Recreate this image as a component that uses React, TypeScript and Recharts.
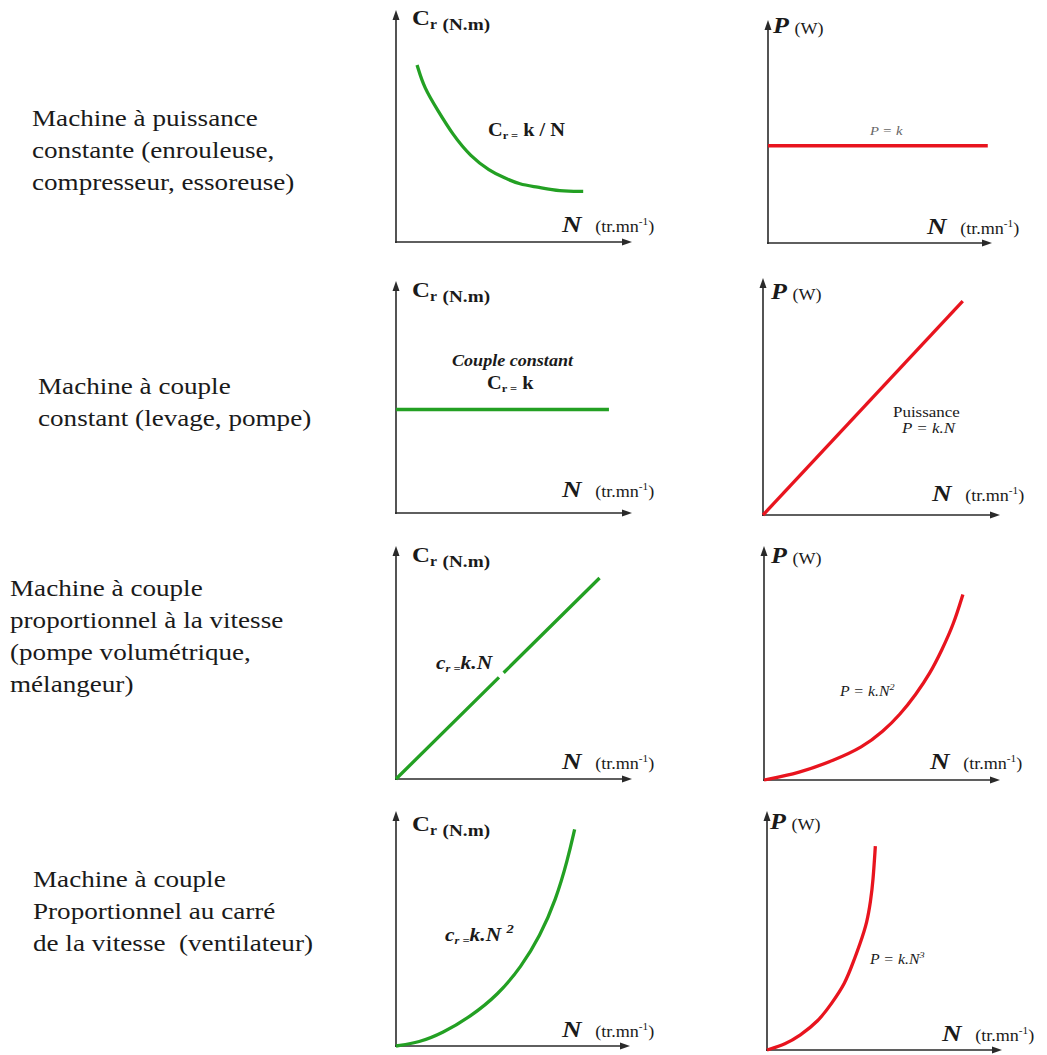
import { LineChart, Line, XAxis, YAxis, ReferenceLine } from "recharts";

const GREEN = "#23a023";
const RED = "#e8141e";
const INK = "#1a1a1a";
const SERIF = "'Liberation Serif', 'Times New Roman', serif";
const SX = 1.13; // the scan is a bit stretched horizontally

// machine à puissance constante
const n1c = [9, 12, 18, 24, 32, 40, 46, 53, 60, 70, 80];
const cr1 = [77, 67, 57, 47, 37, 31, 28, 25, 24, 22, 22];
const n1p = [0, 99];
const p1 = [44, 44];

// machine à couple constant
const n2c = [0, 91];
const cr2 = [45, 45];
const n2p = [0, 85];
const p2 = [0, 91];

// couple proportionnel à la vitesse (small break in the green line)
const n3c = [0, 44, 45, 46, 87];
const cr3 = [0, 44, null, 46, 87];
const n3p = [0, 15, 30, 42, 51, 58, 65, 71, 76, 81, 85];
const p3 = [0, 3, 8.5, 14, 21, 28, 37, 46, 56, 67, 80];

// couple proportionnel au carré de la vitesse
const n4c = [0, 10, 20, 32, 44, 54, 62, 69, 74, 77];
const cr4 = [0, 1.5, 5.5, 12.5, 22, 34, 47, 63, 80, 93];
const n4p = [0, 8, 14, 22, 28, 33.5, 37, 40, 43, 44.5, 45.5, 46.5];
const p4 = [0, 2.5, 6, 12, 20, 28, 37, 45, 54, 63, 71, 86];

const rowLabels = [
  { x: 32, y: 126, lines: ["Machine à puissance", "constante (enrouleuse,", "compresseur, essoreuse)"] },
  { x: 38, y: 394, lines: ["Machine à couple", "constant (levage, pompe)"] },
  { x: 10, y: 596, lines: ["Machine à couple", "proportionnel à la vitesse", "(pompe volumétrique,", "mélangeur)"] },
  { x: 33, y: 887, lines: ["Machine à couple", "Proportionnel au carré", "de la vitesse  (ventilateur)"] },
];

const arrowShape = (p: any) => {
  const { x1, y1, x2, y2 } = p;
  const st = { stroke: "#2a2a2a", strokeWidth: 1.6 };
  if (Math.abs(x1 - x2) < 0.5) {
    const top = Math.min(y1, y2);
    const bot = Math.max(y1, y2);
    return (
      <g>
        <line x1={x1} y1={bot + 1} x2={x1} y2={top + 6} {...st} />
        <polygon points={`${x1},${top - 2} ${x1 - 3.5},${top + 8} ${x1 + 3.5},${top + 8}`} fill="#2a2a2a" />
      </g>
    );
  }
  const left = Math.min(x1, x2);
  const right = Math.max(x1, x2);
  return (
    <g>
      <line x1={left - 1} y1={y1} x2={right - 6} y2={y1} {...st} />
      <polygon points={`${right + 2},${y1} ${right - 8},${y1 - 3.5} ${right - 8},${y1 + 3.5}`} fill="#2a2a2a" />
    </g>
  );
};

function Graph({ box, n, v, color, curve = "basis" }: any) {
  const [x0, y0, x1, y1] = box;
  const M = 8;
  const data = n.map((x: number, i: number) => ({ n: x, v: v[i] }));
  return (
    <div style={{ position: "absolute", left: x0 - M, top: y0 - M }}>
      <LineChart
        width={x1 - x0 + 2 * M}
        height={y1 - y0 + 2 * M}
        data={data}
        margin={{ top: M, right: M, bottom: M, left: M }}
      >
        <XAxis dataKey="n" type="number" domain={[0, 100]} hide />
        <YAxis type="number" domain={[0, 100]} hide />
        <ReferenceLine x={0} shape={arrowShape} />
        <ReferenceLine y={0} shape={arrowShape} />
        <Line
          dataKey="v"
          type={curve}
          stroke={color}
          strokeWidth={3.3}
          dot={false}
          isAnimationActive={false}
        />
      </LineChart>
    </div>
  );
}

function T({ x, y, children, ...rest }: any) {
  return (
    <text
      transform={`translate(${x} ${y}) scale(${SX} 1)`}
      fill={INK}
      fontFamily={SERIF}
      {...rest}
    >
      {children}
    </text>
  );
}

function CrTitle({ x, y }: any) {
  return (
    <T x={x} y={y} fontWeight="bold">
      <tspan fontSize={22}>C</tspan>
      <tspan fontSize={14} dy={4}>r</tspan>
      <tspan fontSize={17} dx={5} dy={1}>(N.m)</tspan>
    </T>
  );
}

function PTitle({ x, y }: any) {
  return (
    <T x={x} y={y}>
      <tspan fontSize={23} fontWeight="bold" fontStyle="italic">P</tspan>
      <tspan fontSize={16} dx={5} dy={1}>(W)</tspan>
    </T>
  );
}

function NTitle({ x, y }: any) {
  return (
    <T x={x} y={y}>
      <tspan fontSize={24} fontWeight="bold" fontStyle="italic">N</tspan>
      <tspan fontSize={16} dx={12}>(tr.mn</tspan>
      <tspan fontSize={10} dy={-7}>-1</tspan>
      <tspan fontSize={16} dy={7}>)</tspan>
    </T>
  );
}

export default function App() {
  return (
    <div style={{ position: "absolute", left: 0, top: 0, width: 1047, height: 1055, background: "#fff" }}>
      <Graph box={[396, 12, 630, 242]} n={n1c} v={cr1} color={GREEN} />
      <Graph box={[768, 22, 990, 243]} n={n1p} v={p1} color={RED} curve="linear" />
      <Graph box={[396, 283, 630, 513]} n={n2c} v={cr2} color={GREEN} curve="linear" />
      <Graph box={[763, 280, 998, 515]} n={n2p} v={p2} color={RED} curve="linear" />
      <Graph box={[396, 548, 630, 779]} n={n3c} v={cr3} color={GREEN} curve="linear" />
      <Graph box={[764, 548, 998, 780]} n={n3p} v={p3} color={RED} />
      <Graph box={[396, 813, 628, 1046]} n={n4c} v={cr4} color={GREEN} />
      <Graph box={[767, 813, 1000, 1050]} n={n4p} v={p4} color={RED} />

      <svg
        width={1047}
        height={1055}
        style={{ position: "absolute", left: 0, top: 0, pointerEvents: "none" }}
      >
        {rowLabels.map((r, i) =>
          r.lines.map((l, j) => (
            <T key={`${i}-${j}`} x={r.x} y={r.y + j * 32} fontSize={24} style={{ whiteSpace: "pre" }}>
              {l}
            </T>
          ))
        )}

        <CrTitle x={412} y={25} />
        <CrTitle x={412} y={297} />
        <CrTitle x={412} y={562} />
        <CrTitle x={412} y={831} />

        <PTitle x={773} y={33} />
        <PTitle x={771} y={299} />
        <PTitle x={771} y={563} />
        <PTitle x={770} y={829} />

        <NTitle x={562} y={232} />
        <NTitle x={927} y={234} />
        <NTitle x={562} y={497} />
        <NTitle x={932} y={501} />
        <NTitle x={562} y={769} />
        <NTitle x={930} y={769} />
        <NTitle x={562} y={1037} />
        <NTitle x={942} y={1041} />

        <T x={488} y={136} fontWeight="bold">
          <tspan fontSize={18}>C</tspan>
          <tspan fontSize={11} dy={3}>r =</tspan>
          <tspan fontSize={18} dy={-3}> k / N</tspan>
        </T>
        <T x={870} y={135} fontSize={13} fontStyle="italic" fill="#666">P = k</T>

        <T x={452} y={366} fontSize={16} fontWeight="bold" fontStyle="italic">Couple constant</T>
        <T x={487} y={389} fontWeight="bold">
          <tspan fontSize={18}>C</tspan>
          <tspan fontSize={11} dy={3}>r =</tspan>
          <tspan fontSize={18} dy={-3}> k</tspan>
        </T>
        <T x={893} y={417} fontSize={15}>Puissance</T>
        <T x={902} y={433} fontSize={15} fontStyle="italic">P = k.N</T>

        <T x={436} y={669} fontWeight="bold" fontStyle="italic">
          <tspan fontSize={19}>c</tspan>
          <tspan fontSize={11} dy={3}>r =</tspan>
          <tspan fontSize={19} dy={-3}>k.N</tspan>
        </T>
        <T x={840} y={696} fontSize={14} fontStyle="italic">
          P = k.N<tspan fontSize={9} dy={-6}>2</tspan>
        </T>

        <T x={445} y={941} fontWeight="bold" fontStyle="italic">
          <tspan fontSize={19}>c</tspan>
          <tspan fontSize={11} dy={3}>r =</tspan>
          <tspan fontSize={19} dy={-3}>k.N </tspan>
          <tspan fontSize={13} dy={-8}>2</tspan>
        </T>
        <T x={870} y={964} fontSize={14} fontStyle="italic">
          P = k.N<tspan fontSize={9} dy={-6}>3</tspan>
        </T>
      </svg>
    </div>
  );
}
